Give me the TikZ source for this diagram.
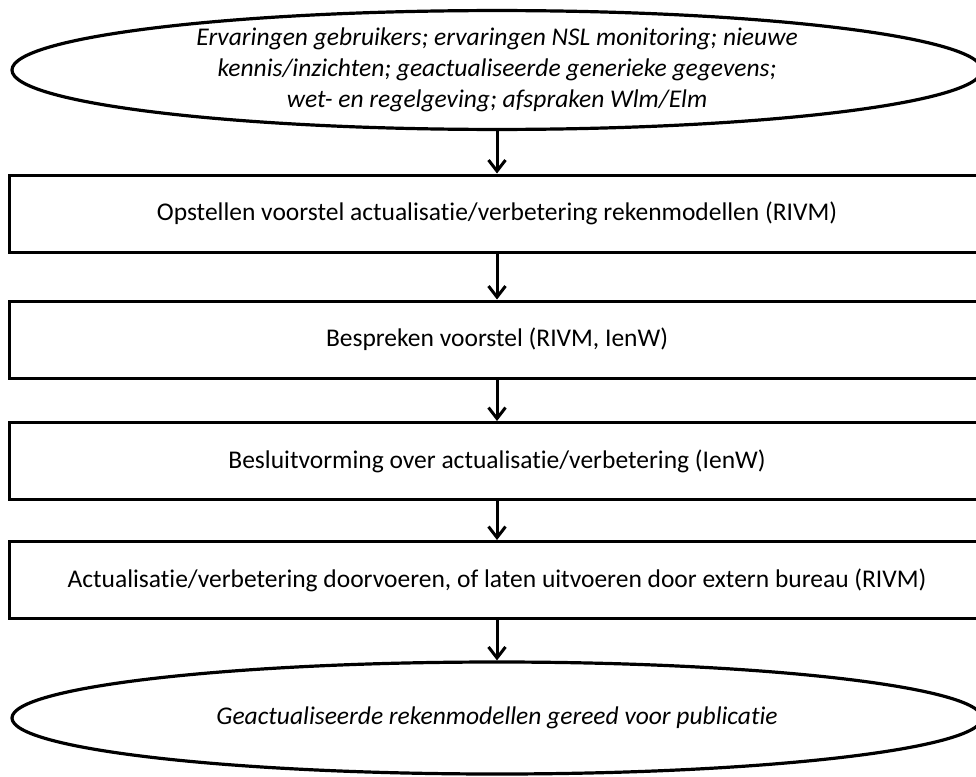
\documentclass[tikz,border=0pt]{standalone}
\usepackage{fontspec}
\setmainfont{Carlito}[RawFeature=-liga]
\usetikzlibrary{shapes.geometric,arrows.meta}
\begin{document}
\begin{tikzpicture}[x=1pt,y=-1pt,
  every node/.style={font=\fontsize{25.5}{31}\selectfont},
  ovalbox/.style={ellipse, draw, line width=3.2pt, inner sep=0pt, minimum width=970pt, align=center},
  stepbox/.style={rectangle, draw, line width=3pt, inner sep=0pt, minimum width=976pt, minimum height=77pt, align=center},
  arr/.style={line width=3pt, -{Straight Barb[length=11pt,width=17pt,line width=3pt]}}]
\useasboundingbox (0,0) rectangle (976,776);
\node[ovalbox, minimum height=116pt] (e1) at (497,70) {\itshape Ervaringen gebruikers; ervaringen NSL monitoring; nieuwe\\ \itshape kennis/inzichten; geactualiseerde generieke gegevens;\\ \itshape wet- en regelgeving; afspraken Wlm/Elm};
\node[stepbox] (b1) at (497,213.5) {Opstellen voorstel actualisatie/verbetering rekenmodellen (RIVM)};
\node[stepbox] (b2) at (497,339.5) {Bespreken voorstel (RIVM, IenW)};
\node[stepbox] (b3) at (497,461) {Besluitvorming over actualisatie/verbetering (IenW)};
\node[stepbox] (b4) at (497,580) {Actualisatie/verbetering doorvoeren, of laten uitvoeren door extern bureau (RIVM)};
\node[ovalbox, minimum height=112pt] (e2) at (497,718) {\itshape Geactualiseerde rekenmodellen gereed voor publicatie};
\draw[arr] (e1.south) -- (b1.north);
\draw[arr] (b1.south) -- (b2.north);
\draw[arr] (b2.south) -- (b3.north);
\draw[arr] (b3.south) -- (b4.north);
\draw[arr] (b4.south) -- (e2.north);
\end{tikzpicture}
\end{document}
